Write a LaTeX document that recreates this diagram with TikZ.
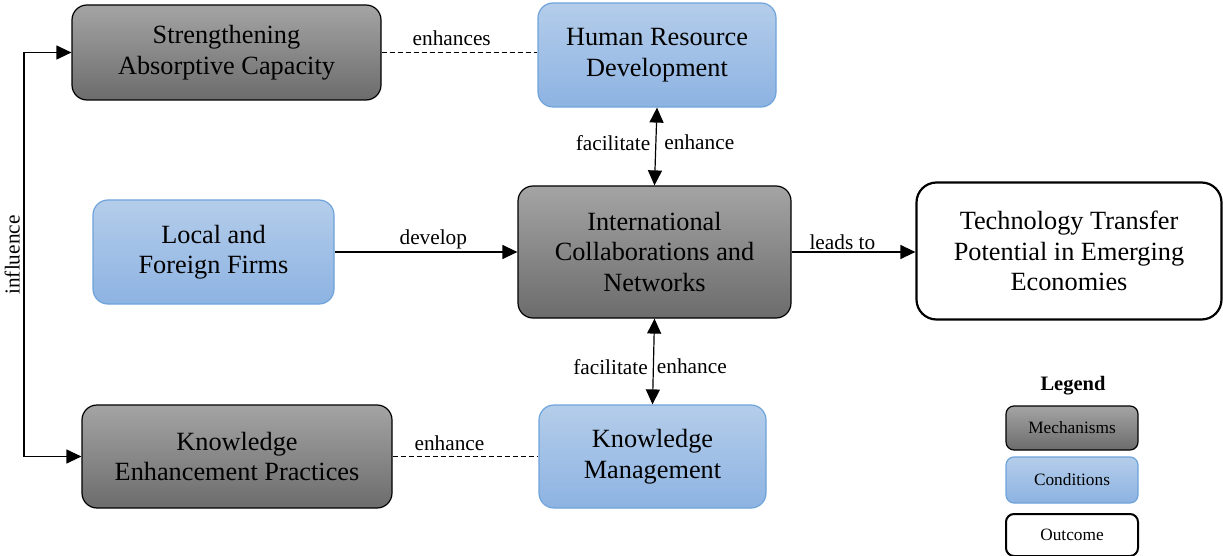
\documentclass[tikz,border=0pt]{standalone}
\usepackage{fontspec}
\setmainfont{Liberation Serif}
\usetikzlibrary{arrows.meta,shadings}
\definecolor{gtop}{HTML}{A4A4A4}
\definecolor{gbot}{HTML}{6C6C6C}
\definecolor{btop}{HTML}{B4CDEA}
\definecolor{bbot}{HTML}{8DB3E2}
\definecolor{bline}{HTML}{6FA3DA}
\tikzset{
  base/.style={rectangle, rounded corners=15pt, inner sep=0pt, align=center,
    font=\fontsize{26.3}{30.5}\selectfont},
  mech/.style={base, draw=black, line width=1.2pt, top color=gtop, bottom color=gbot},
  cond/.style={base, draw=bline, line width=1.2pt, top color=btop, bottom color=bbot},
  outc/.style={base, draw=black, line width=2.2pt, fill=white, rounded corners=20pt},
  lbl/.style={font=\fontsize{21.3}{24}\selectfont, inner sep=3pt},
  leg/.style={font=\fontsize{17.3}{20}\selectfont},
  conn/.style={line width=1.2pt, -{Triangle[length=15pt,width=14pt]}},
  biconn/.style={line width=1.2pt, {Triangle[length=15pt,width=14pt]}-{Triangle[length=15pt,width=14pt]}},
  dashconn/.style={line width=1.1pt, dashed, dash pattern=on 5pt off 3pt}
}
\begin{document}
\begin{tikzpicture}[x=1pt,y=-1pt]
\useasboundingbox (0,0) rectangle (1223,556);
\node[mech, minimum width=309, minimum height=95] (SAC) at (226.5,52.5) {Strengthening\\Absorptive Capacity};
\node[cond, minimum width=238, minimum height=104] (HRD) at (657,55) {Human Resource\\Development};
\node[cond, minimum width=241, minimum height=104] (LFF) at (213.5,252) {Local and\\Foreign Firms};
\node[mech, minimum width=273, minimum height=132] (ICN) at (654.5,252) {International\\Collaborations and\\Networks};
\node[outc, minimum width=305, minimum height=137] (TTP) at (1069,251) {Technology Transfer\\Potential in Emerging\\Economies};
\node[mech, minimum width=310, minimum height=103] (KEP) at (237,456.5) {Knowledge\\Enhancement Practices};
\node[cond, minimum width=227, minimum height=103] (KM) at (652.5,456.5) {Knowledge\\Management};

% legend
\node[font=\fontsize{20.5}{24}\selectfont\bfseries] (LEG) at (1073,386) {Legend};
\node[mech, leg, rounded corners=8pt, minimum width=132, minimum height=44] (LM) at (1072,428) {Mechanisms};
\node[cond, leg, rounded corners=8pt, minimum width=132, minimum height=46] (LC) at (1072,480) {Conditions};
\node[outc, leg, line width=2pt, rounded corners=8pt, minimum width=132, minimum height=42] (LO) at (1072,535) {Outcome};

% connectors
\coordinate (infl) at (24,255);
\draw[conn] (infl) |- (SAC.west);
\draw[conn] (infl) |- (KEP.west);
\node[lbl, rotate=90, anchor=south, inner sep=4pt] (INFL) at (infl) {influence};

\draw[dashconn] (SAC.east) -- node[lbl, pos=0.45, above, inner sep=6pt] {enhances} (HRD.west |- SAC.east);
\draw[biconn] (HRD.south) -- node[lbl, pos=0.45, left, inner sep=5pt] {facilitate} node[lbl, pos=0.45, right, inner sep=8pt] {enhance} (ICN.north);
\draw[conn] (LFF.east) -- node[lbl, pos=0.54, above, inner sep=2pt] {develop} (ICN.west);
\draw[conn] (ICN.east) -- node[lbl, pos=0.41, above, inner sep=2pt] {leads to} (TTP.west |- ICN.east);
\draw[biconn] (ICN.south) -- node[lbl, pos=0.56, left, inner sep=5pt] {facilitate} node[lbl, pos=0.56, right, inner sep=3pt] {enhance} (KM.north);
\draw[dashconn] (KEP.east) -- node[lbl, pos=0.39, above, inner sep=5pt] {enhance} (KM.west);
\end{tikzpicture}
\end{document}
